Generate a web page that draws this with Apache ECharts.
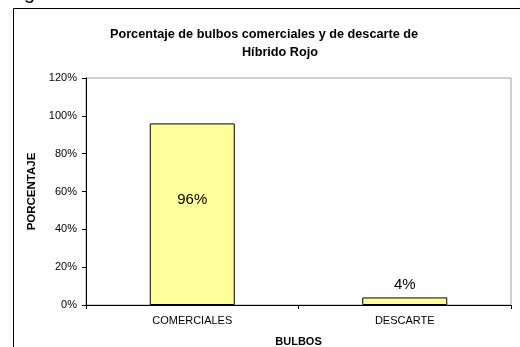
<!DOCTYPE html>
<html>
<head>
<meta charset="utf-8">
<script src="https://cdn.jsdelivr.net/npm/echarts@6/dist/echarts.min.js"></script>
<style>html,body{margin:0;padding:0;background:#fff;}#c{width:520px;height:347px;}</style>
</head>
<body>
<div id="c"></div>
<script>
var categories = ['COMERCIALES', 'DESCARTE'];
var values = [0.96, 0.04];
var yTicks = [0, 0.2, 0.4, 0.6, 0.8, 1.0, 1.2];
var titleLine1 = 'Porcentaje de bulbos comerciales y de descarte de';
var titleLine2 = 'Híbrido Rojo';
var xName = 'BULBOS';
var yName = 'PORCENTAJE';

var font = 'Liberation Sans, Arial, sans-serif';
var chart = echarts.init(document.getElementById('c'));
chart.setOption({
  animation: false,
  backgroundColor: '#fff',
  title: [
    {text: titleLine1, left: 259, top: 23, textAlign: 'center',
     textStyle: {fontFamily: font, fontSize: 12.7, fontWeight: 'bold', color: '#000'}},
    {text: titleLine2, left: 275, top: 41, textAlign: 'center',
     textStyle: {fontFamily: font, fontSize: 12.7, fontWeight: 'bold', color: '#000'}}
  ],
  graphic: [
    {type: 'rect', shape: {x: 13.5, y: 8.5, width: 600, height: 400},
     style: {fill: 'none', stroke: '#000', lineWidth: 1}, silent: true},
    {type: 'text', left: 24, top: -17, style: {text: 'g', font: '20px Liberation Sans', fill: '#000'}}
  ],
  grid: {left: 86, right: 9, top: 78, bottom: 42, show: true, borderColor: '#a0a0a0', borderWidth: 1,
         containLabel: false, outerBoundsMode: 'none'},
  xAxis: {
    type: 'category', data: categories,
    name: xName, nameLocation: 'middle', nameGap: 31,
    nameTextStyle: {fontFamily: font, fontSize: 11, fontWeight: 'bold', color: '#000'},
    axisLine: {lineStyle: {color: '#000', width: 1}},
    axisTick: {show: true, length: 4, lineStyle: {color: '#000'}},
    axisLabel: {fontFamily: font, fontSize: 11, color: '#000', margin: 10},
    splitLine: {show: false}
  },
  yAxis: {
    type: 'value', min: yTicks[0], max: yTicks[yTicks.length - 1], interval: yTicks[1] - yTicks[0],
    name: yName, nameLocation: 'middle', nameGap: 43,
    nameTextStyle: {fontFamily: font, fontSize: 11.5, fontWeight: 'bold', color: '#000'},
    axisLine: {show: true, lineStyle: {color: '#000', width: 1}},
    axisTick: {show: true, length: 4, lineStyle: {color: '#000'}},
    axisLabel: {fontFamily: font, fontSize: 11, color: '#000', margin: 9,
      formatter: function (v) { return Math.round(v * 100) + '%'; }},
    splitLine: {show: false}
  },
  series: [{
    type: 'bar',
    barWidth: '40%',
    data: values.map(function (v) {
      return {value: v, label: v > 0.5 ? {position: 'inside', offset: [0, -14]} : {position: 'top'}};
    }),
    itemStyle: {color: '#FFFF99', borderColor: '#000', borderWidth: 1},
    label: {show: true, fontFamily: font, fontSize: 15, color: '#000',
      formatter: function (p) { return Math.round(p.value * 100) + '%'; }}
  }]
});
</script>
</body>
</html>
